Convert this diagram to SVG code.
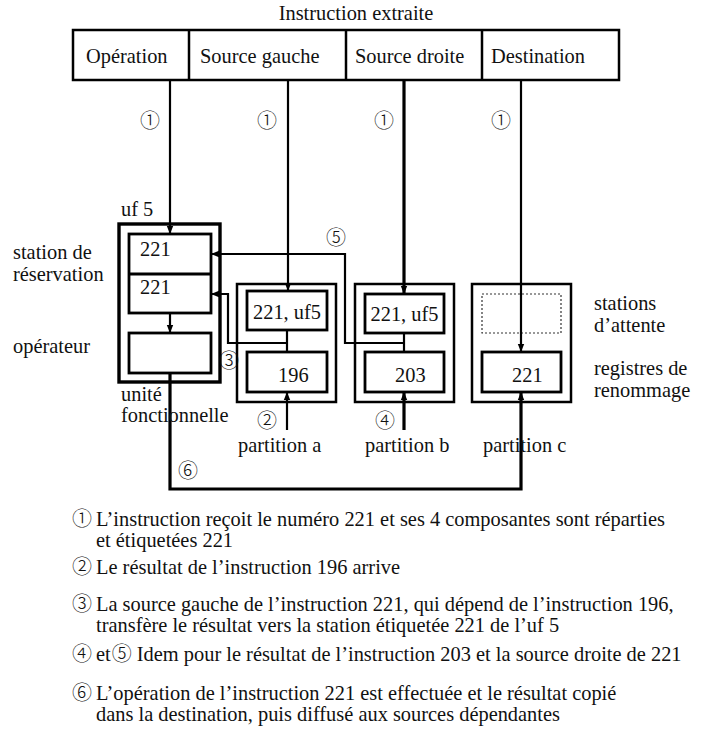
<svg xmlns="http://www.w3.org/2000/svg" width="706" height="729" viewBox="0 0 706 729">
<style>
text{font-family:"Liberation Serif","Times New Roman",serif;font-size:20.4px;fill:#111}
.c{font-family:"Noto Sans CJK JP","DejaVu Sans",sans-serif;font-size:20px;font-weight:300}
.box{fill:none;stroke:#000;stroke-width:2.5}
.thick{fill:none;stroke:#000;stroke-width:3.4}
.in{fill:none;stroke:#000;stroke-width:2.8}
.dot{fill:none;stroke:#333;stroke-width:1.2;stroke-dasharray:2 2}
.ln{fill:none;stroke:#000;stroke-width:2.2}
.lnb{fill:none;stroke:#000;stroke-width:3.2}
</style>
<defs>
<marker id="arr" viewBox="0 0 10 10" refX="10" refY="5" markerWidth="8" markerHeight="8" markerUnits="userSpaceOnUse" orient="auto"><path d="M0,1 L10,5 L0,9 z" fill="#000"/></marker>
</defs>
<g id="title"><text x="356" y="20" text-anchor="middle">Instruction extraite</text></g>
<g id="instruction">
<rect class="box" x="73" y="30" width="546" height="50"/>
<line class="box" x1="189" y1="30" x2="189" y2="80"/>
<line class="box" x1="346" y1="30" x2="346" y2="80"/>
<line class="box" x1="482" y1="30" x2="482" y2="80"/>
<text x="86" y="63">Opération</text>
<text x="200" y="63">Source gauche</text>
<text x="355" y="63">Source droite</text>
<text x="491" y="63">Destination</text>
</g>
<g id="uf5">
<rect class="thick" x="119" y="224" width="101" height="158"/>
<rect class="in" x="129" y="234" width="82" height="79"/>
<line class="in" x1="129" y1="274" x2="211" y2="274"/>
<rect class="in" x="129" y="333" width="82" height="40"/>
<text x="140" y="256">221</text>
<text x="140" y="294">221</text>
</g>
<g id="partition-a">
<rect class="box" x="237" y="284" width="99" height="118"/>
<rect class="in" x="247" y="291" width="80" height="39"/>
<rect class="in" x="247" y="352" width="80" height="40"/>
<text x="287" y="319" text-anchor="middle">221, uf5</text>
<text x="278" y="382">196</text>
</g>
<g id="partition-b">
<rect class="box" x="355" y="284" width="99" height="118"/>
<rect class="in" x="365" y="294" width="79" height="39"/>
<rect class="in" x="365" y="352" width="79" height="40"/>
<text x="404.5" y="321" text-anchor="middle">221, uf5</text>
<text x="395" y="382">203</text>
</g>
<g id="partition-c">
<rect class="box" x="472" y="284" width="99" height="118"/>
<rect class="dot" x="482" y="294" width="79" height="39"/>
<rect class="in" x="482" y="352" width="79" height="40"/>
<text x="512" y="382">221</text>
</g>
<g id="connectors">
<path class="ln" d="M170 80 V234" marker-end="url(#arr)"/>
<path class="ln" d="M288 80 V291" marker-end="url(#arr)"/>
<path class="lnb" d="M404 80 V294" marker-end="url(#arr)"/>
<path class="ln" d="M521 80 V352" marker-end="url(#arr)"/>
<path class="ln" d="M170 313 V333" marker-end="url(#arr)"/>
<path class="ln" d="M287 330 V352"/>
<path class="ln" d="M287 343 H228 V294 H211" marker-end="url(#arr)"/>
<path class="ln" d="M404 333 V352"/>
<path class="ln" d="M404 343 H345 V254 H211" marker-end="url(#arr)"/>
<path class="ln" d="M287 430 V392" marker-end="url(#arr)"/>
<path class="lnb" d="M404 430 V392" marker-end="url(#arr)"/>
<path class="lnb" d="M170 373 V489 H521 V392" marker-end="url(#arr)"/>
</g>
<g id="step-labels">
<text class="c" x="150" y="128" text-anchor="middle">①</text>
<text class="c" x="267" y="128" text-anchor="middle">①</text>
<text class="c" x="384" y="128" text-anchor="middle">①</text>
<text class="c" x="501" y="128" text-anchor="middle">①</text>
<text class="c" x="336" y="245" text-anchor="middle">⑤</text>
<text class="c" x="229" y="368" text-anchor="middle">③</text>
<text class="c" x="267" y="428" text-anchor="middle">②</text>
<text class="c" x="385" y="428" text-anchor="middle">④</text>
<text class="c" x="188" y="478" text-anchor="middle">⑥</text>
</g>
<g id="labels">
<text x="121" y="216">uf 5</text>
<text x="13" y="259">station de</text>
<text x="13" y="281">réservation</text>
<text x="13" y="353">opérateur</text>
<text x="121" y="401">unité</text>
<text x="121" y="422">fonctionnelle</text>
<text x="238" y="452">partition a</text>
<text x="365" y="452">partition b</text>
<text x="483" y="452">partition c</text>
<text x="594" y="310">stations</text>
<text x="594" y="332">d’attente</text>
<text x="594" y="375">registres de</text>
<text x="594" y="397">renommage</text>
</g>
<g id="legend">
<text class="c" x="72" y="526">①</text>
<text x="96" y="526">L’instruction reçoit le numéro 221 et ses 4 composantes sont réparties</text>
<text x="96" y="547">et étiquetées 221</text>
<text class="c" x="72" y="574">②</text>
<text x="96" y="574">Le résultat de l’instruction 196 arrive</text>
<text class="c" x="72" y="611">③</text>
<text x="96" y="611">La source gauche de l’instruction 221, qui dépend de l’instruction 196,</text>
<text x="96" y="632">transfère le résultat vers la station étiquetée 221 de l’uf 5</text>
<text class="c" x="72" y="661">④</text>
<text x="96" y="661">et<tspan class="c" dx="1">⑤</tspan> Idem pour le résultat de l’instruction 203 et la source droite de 221</text>
<text class="c" x="72" y="700">⑥</text>
<text x="96" y="700">L’opération de l’instruction 221 est effectuée et le résultat copié</text>
<text x="96" y="721">dans la destination, puis diffusé aux sources dépendantes</text>
</g>
</svg>
